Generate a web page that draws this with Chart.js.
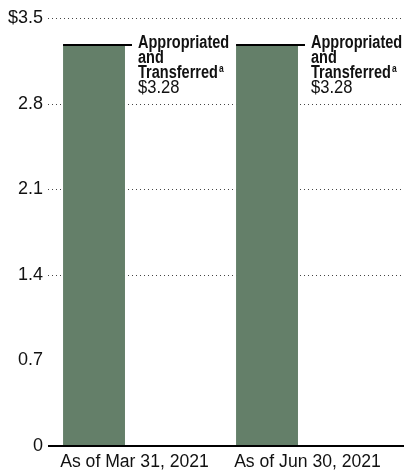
<!DOCTYPE html>
<html>
<head>
<meta charset="utf-8">
<script src="https://cdn.jsdelivr.net/npm/chart.js@4/dist/chart.umd.min.js"></script>
<style>
html,body{margin:0;padding:0;background:#fff;}
#wrap{width:404px;height:470px;}
</style>
</head>
<body>
<div id="wrap"><canvas id="c" width="404" height="470"></canvas></div>
<script>
const categories = ['As of Mar 31, 2021', 'As of Jun 30, 2021'];
const appropriated = [3.28, 3.28];
const yTicks = [0, 0.7, 1.4, 2.1, 2.8, 3.5];
const noteLines = ['Appropriated', 'and', 'Transferred'];
const noteSup = 'a';
const valueLabels = ['$3.28', '$3.28'];

const BAR = '#647f69';
const FONT = '"Liberation Sans", Arial, sans-serif';

function squeezeText(ctx, txt, x, y, font, sx) {
  ctx.save();
  ctx.font = font;
  ctx.translate(x, y);
  ctx.scale(sx, 1);
  ctx.fillText(txt, 0, 0);
  const w = ctx.measureText(txt).width * sx;
  ctx.restore();
  return w;
}

const gridPlugin = {
  id: 'grid',
  beforeDatasetsDraw(chart) {
    const ctx = chart.ctx, y = chart.scales.y, ca = chart.chartArea;
    ctx.save();
    ctx.strokeStyle = '#444';
    ctx.lineWidth = 1;
    ctx.setLineDash([1, 3]);
    yTicks.forEach(v => {
      if (v === 0 || v === 0.7) return;
      const py = Math.round(y.getPixelForValue(v)) + 0.5;
      ctx.beginPath();
      ctx.moveTo(ca.left, py);
      ctx.lineTo(chart.width, py);
      ctx.stroke();
    });
    ctx.restore();
  },
  afterDatasetsDraw(chart) {
    const ctx = chart.ctx, y = chart.scales.y, ca = chart.chartArea;
    ctx.save();
    const py0 = y.getPixelForValue(0);
    ctx.strokeStyle = '#000';
    ctx.lineWidth = 2;
    ctx.beginPath();
    ctx.moveTo(ca.left, py0);
    ctx.lineTo(chart.width, py0);
    ctx.stroke();
    const meta = chart.getDatasetMeta(0);
    meta.data.forEach((bar, i) => {
      const left = bar.x - bar.width / 2;
      const right = bar.x + bar.width / 2;
      const ty = bar.y;
      ctx.strokeStyle = '#000';
      ctx.lineWidth = 2;
      ctx.beginPath();
      ctx.moveTo(left, ty);
      ctx.lineTo(right + 7, ty);
      ctx.stroke();
      const tx = right + 13;
      ctx.fillStyle = '#111';
      ctx.textBaseline = 'alphabetic';
      ctx.textAlign = 'left';
      const by = ty + 3.5;
      let w = 0;
      noteLines.forEach((ln, k) => {
        w = squeezeText(ctx, ln, tx, by + k * 14.7, 'bold 17.5px ' + FONT, 0.83);
      });
      squeezeText(ctx, noteSup, tx + w + 1, by + 2 * 14.7 - 6, 'bold 10px ' + FONT, 0.85);
      squeezeText(ctx, valueLabels[i], tx, by + 3 * 14.7, '18px ' + FONT, 0.92);
    });
    ctx.restore();
  }
};

new Chart(document.getElementById('c'), {
  type: 'bar',
  data: {
    labels: categories,
    datasets: [
      { data: appropriated, backgroundColor: BAR, borderWidth: 0, categoryPercentage: 0.936, barPercentage: 0.765 },
      { data: [null, null], backgroundColor: 'rgba(0,0,0,0)', categoryPercentage: 0.936, barPercentage: 0.765 }
    ]
  },
  options: {
    responsive: false,
    animation: false,
    devicePixelRatio: 1,
    layout: { padding: { top: 18, right: 10, left: 0, bottom: 0 } },
    plugins: { legend: { display: false }, tooltip: { enabled: false } },
    scales: {
      x: {
        grid: { display: false, drawTicks: false },
        border: { display: false },
        ticks: { color: '#111', font: { family: FONT, size: 17.6 }, padding: 6, maxRotation: 0, autoSkip: false },
        afterFit(s) { s.height = 24; }
      },
      y: {
        min: 0, max: 3.5,
        afterBuildTicks(s) { s.ticks = yTicks.map(v => ({ value: v })); },
        grid: { display: false, drawTicks: false },
        border: { display: false },
        ticks: {
          color: '#111', font: { family: FONT, size: 18 }, padding: 5,
          callback: v => v === 3.5 ? '$3.5' : (v === 0 ? '0' : v.toFixed(1))
        },
        afterFit(s) { s.width = 48; }
      }
    }
  },
  plugins: [gridPlugin]
});
</script>
</body>
</html>
